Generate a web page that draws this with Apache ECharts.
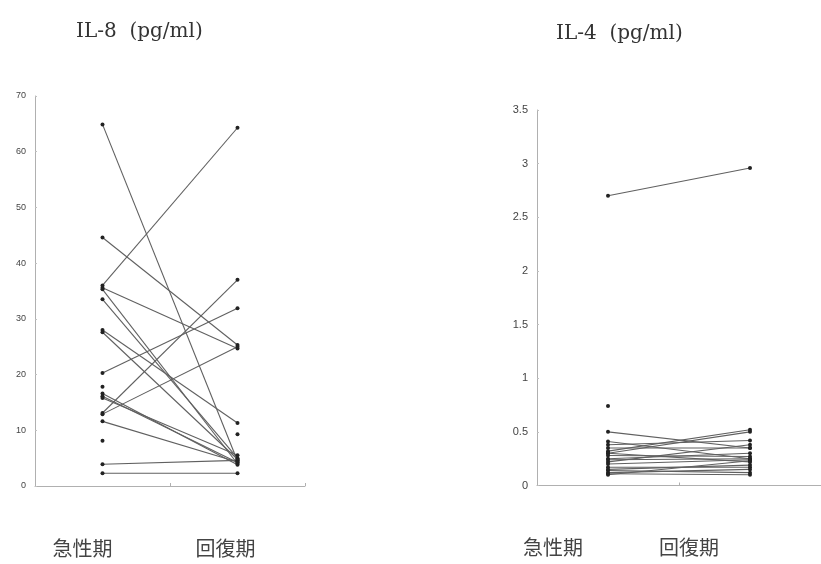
<!DOCTYPE html>
<html>
<head>
<meta charset="utf-8">
<script src="https://cdn.jsdelivr.net/npm/echarts@6/dist/echarts.min.js"></script>
<style>html,body{margin:0;padding:0;background:#fff;}#c{width:821px;height:564px;}</style>
</head>
<body>
<div id="c"></div>
<script>
var categories = ['急性期', '回復期'];
var il8Ticks = [0, 10, 20, 30, 40, 50, 60, 70];
var il4Ticks = [0, 0.5, 1, 1.5, 2, 2.5, 3, 3.5];
var il8Acute    = [64.9, 44.6, 36.0, 35.6, 35.3, 33.5, 28.0, 27.6, 20.3, 17.8, 16.6, 16.1, 15.8, 13.1, 12.9, 11.6, 8.1, 3.9, 2.3, null];
var il8Recovery = [4.5, 25.3, 64.3, 24.7, 4.0, 5.0, 11.3, 4.8, 31.9, null, 3.8, 4.2, 5.5, 37.0, 25.0, 4.3, null, 4.6, 2.3, 9.3];
var il4Acute    = [2.70, 0.74, 0.50, 0.41, 0.38, 0.35, 0.32, 0.30, 0.30, 0.28, 0.25, 0.24, 0.22, 0.20, 0.17, 0.15, 0.14, 0.12, 0.11, 0.10];
var il4Recovery = [2.96, null, 0.35, 0.25, 0.42, 0.35, 0.52, 0.50, 0.22, 0.27, 0.30, 0.25, 0.38, 0.24, 0.17, 0.19, 0.12, 0.15, 0.10, 0.23];

var chart = echarts.init(document.getElementById('c'));

function pairSeries(acute, recovery, axisIdx) {
  return acute.map(function (a, i) {
    return {
      type: 'line',
      xAxisIndex: axisIdx,
      yAxisIndex: axisIdx,
      data: [a, recovery[i]],
      symbol: 'circle',
      symbolSize: 4,
      showSymbol: true,
      connectNulls: false,
      silent: true,
      animation: false,
      lineStyle: { color: '#606060', width: 1.1 },
      itemStyle: { color: '#222' }
    };
  });
}

function xAxisDef(grid, shifts) {
  return {
    type: 'category',
    gridIndex: grid,
    data: categories,
    boundaryGap: true,
    axisLine: { lineStyle: { color: '#b0b0b0', width: 1 } },
    axisTick: { show: true, length: 3, inside: true, lineStyle: { color: '#b0b0b0' } },
    axisLabel: {
      margin: 52,
      formatter: function (v, i) { return '{c' + i + '|' + v + '}'; },
      rich: {
        c0: { fontSize: 20, color: '#444', fontFamily: 'Noto Sans CJK JP', padding: [0, shifts[0] * 2, 0, 0] },
        c1: { fontSize: 20, color: '#444', fontFamily: 'Noto Sans CJK JP', padding: [0, shifts[1] * 2, 0, 0] }
      }
    }
  };
}

function yAxisDef(grid, max, interval, fs, ticks) {
  return {
    type: 'value',
    gridIndex: grid,
    min: ticks[0],
    max: max,
    interval: interval,
    splitLine: { show: false },
    axisLine: { show: true, lineStyle: { color: '#b0b0b0', width: 1 } },
    axisTick: { show: true, length: 2, inside: true, lineStyle: { color: '#c0c0c0' } },
    axisLabel: { fontSize: fs, color: '#444', margin: 9, fontFamily: 'Liberation Sans' }
  };
}

var option = {
  backgroundColor: '#ffffff',
  title: [
    { text: 'IL-8  (pg/ml)', left: 71, top: 17, textStyle: { fontFamily: 'DejaVu Serif', fontSize: 20, fontWeight: 'normal', color: '#333' } },
    { text: 'IL-4  (pg/ml)', left: 551, top: 19, textStyle: { fontFamily: 'DejaVu Serif', fontSize: 20, fontWeight: 'normal', color: '#333' } }
  ],
  grid: [
    { left: 35, top: 96, width: 270, bottom: 78 },
    { left: 537, top: 110, width: 290, bottom: 78.5 }
  ],
  xAxis: [xAxisDef(0, [20, 12]), xAxisDef(1, [55, 61])],
  yAxis: [
    yAxisDef(0, il8Ticks[il8Ticks.length - 1], il8Ticks[1] - il8Ticks[0], 9, il8Ticks),
    yAxisDef(1, il4Ticks[il4Ticks.length - 1], il4Ticks[1] - il4Ticks[0], 11, il4Ticks)
  ],
  series: pairSeries(il8Acute, il8Recovery, 0).concat(pairSeries(il4Acute, il4Recovery, 1))
};
chart.setOption(option);
</script>
</body>
</html>
